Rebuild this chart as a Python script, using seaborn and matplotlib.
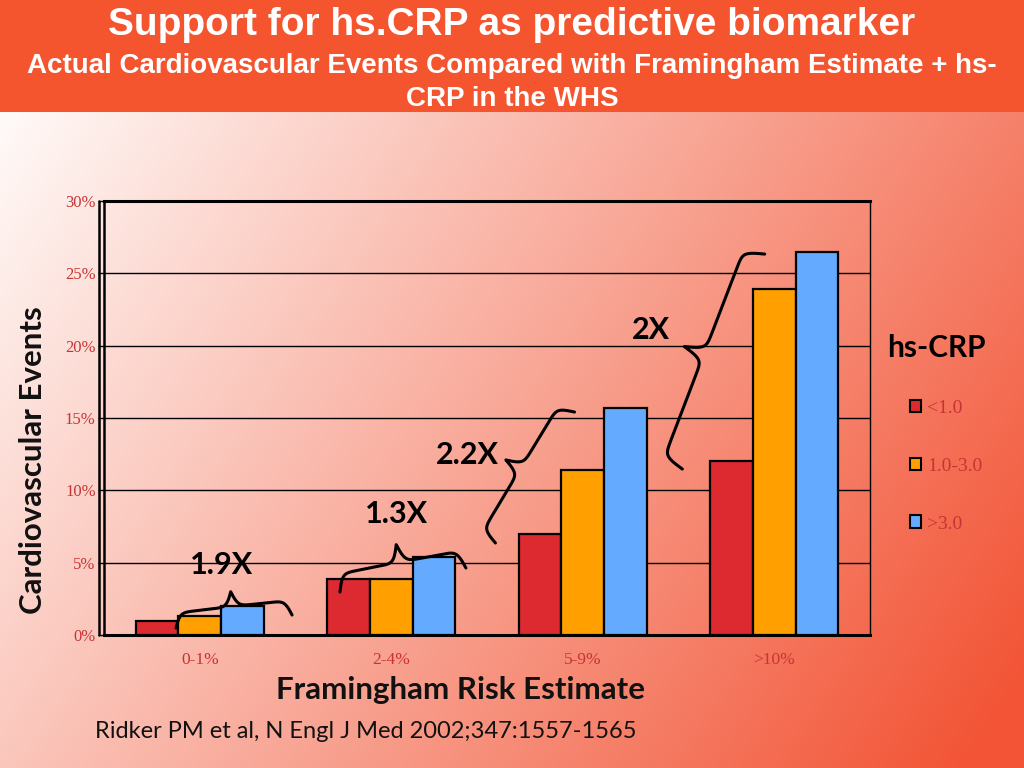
import numpy as np
import pandas as pd
import matplotlib
matplotlib.use("Agg")
import matplotlib.pyplot as plt
import seaborn as sns
from matplotlib.patches import Rectangle
from matplotlib.lines import Line2D

# data (percent of women with events)
risk_groups = ["0-1%", "2-4%", "5-9%", ">10%"]
crp_levels = ["<1.0", "1.0-3.0", ">3.0"]
crp_low = [1.0, 3.9, 7.0, 12.0]
crp_mid = [1.3, 3.9, 11.4, 23.9]
crp_high = [2.0, 5.4, 15.7, 26.5]
y_ticks = [0, 5, 10, 15, 20, 25, 30]
ratio_labels = ["1.9X", "1.3X", "2.2X", "2X"]

bar_colors = ["#dc2a30", "#ffa000", "#64aaff"]
tick_red = "#c83434"

df = pd.DataFrame({
    "risk": np.repeat(risk_groups, 3),
    "crp": crp_levels * 4,
    "events": [v for trio in zip(crp_low, crp_mid, crp_high) for v in trio],
})

sns.set_style("white")
plt.rcParams["font.family"] = ["Liberation Sans", "DejaVu Sans"]

fig = plt.figure(figsize=(10.24, 7.68), dpi=100)

# background gradient (white top-left -> orange-red bottom-right)
bg = fig.add_axes([0, 0, 1, 1], zorder=-10)
gx, gy = np.meshgrid(np.linspace(0, 1, 256), np.linspace(0, 1, 192))
t = np.clip(0.72 * gx + 0.36 * gy - 0.04, 0, 1)
white = np.array([1.0, 0.99, 0.985])
red = np.array([0.95, 0.33, 0.21])
img = white[None, None, :] * (1 - t[..., None]) + red[None, None, :] * t[..., None]
bg.imshow(img, aspect="auto", extent=[0, 1, 0, 1], origin="upper")
bg.set_xlim(0, 1)
bg.set_ylim(0, 1)
bg.axis("off")

# title banner
fig.patches.append(Rectangle((0, 1 - 112 / 768), 1, 112 / 768, transform=fig.transFigure,
                             facecolor="#f4552f", edgecolor="none", zorder=-5))
fig.text(0.5, 1 - 25 / 768, "Support for hs.CRP as predictive biomarker", ha="center", va="center",
         color="white", fontsize=28, fontweight="bold")
fig.text(0.5, 1 - 66 / 768, "Actual Cardiovascular Events Compared with Framingham Estimate + hs-",
         ha="center", va="center", color="white", fontsize=20, fontweight="bold")
fig.text(0.5, 1 - 99 / 768, "CRP in the WHS", ha="center", va="center", color="white",
         fontsize=20, fontweight="bold")

ax = fig.add_axes([104 / 1024, 1 - 635 / 768, 766 / 1024, 434 / 768])
ax.patch.set_alpha(0)

sns.barplot(data=df, x="risk", y="events", hue="crp", hue_order=crp_levels, order=risk_groups,
            palette=bar_colors, width=0.67, edgecolor="black", linewidth=1.6, saturation=1,
            ax=ax, zorder=3)

ax.set_xlim(-0.5, 3.5)
ax.set_ylim(0, 30)
ax.set_yticks(y_ticks)
ax.set_yticklabels([f"{v}%" for v in y_ticks], fontfamily="Liberation Serif", fontsize=12,
                   color=tick_red)
ax.grid(axis="y", color="black", linewidth=1.0, zorder=0)
ax.set_axisbelow(True)

# x: ticks at group boundaries, labels under groups
ax.set_xticks(np.arange(-0.5, 4.0, 1.0))
ax.set_xticklabels([])
ax.set_xticks(range(len(risk_groups)), minor=True)
ax.set_xticklabels(risk_groups, minor=True, fontfamily="Liberation Serif", fontsize=12.5,
                   color=tick_red)
ax.tick_params(axis="x", which="minor", length=0, pad=12)
ax.tick_params(axis="x", which="major", length=5, width=1, color="black", direction="out")
ax.tick_params(axis="y", length=4, width=1, color="black", direction="out", left=True, pad=2)
ax.set_xlabel("")
ax.set_ylabel("")

for side in ["top", "bottom", "left", "right"]:
    ax.spines[side].set_visible(True)
    ax.spines[side].set_color("black")
ax.spines["top"].set_linewidth(2.2)
ax.spines["bottom"].set_linewidth(2.2)
ax.spines["right"].set_linewidth(1.0)
ax.spines["left"].set_linewidth(1.8)
ax.add_line(Line2D([-0.006, -0.006], [0, 1], transform=ax.transAxes, color="black",
                   linewidth=1.8, clip_on=False))

# legend: title as separate text, entries below
handles, labels = ax.get_legend_handles_labels()
leg = ax.legend(handles, labels, loc="upper left", bbox_to_anchor=(1.052, 0.542),
                frameon=False, handlelength=0.6, handleheight=0.6, handletextpad=0.3,
                labelspacing=2.1, borderaxespad=0, borderpad=0,
                prop={"family": "Liberation Serif", "size": 14})
for txt in leg.get_texts():
    txt.set_color(tick_red)
for h in leg.legend_handles:
    h.set_edgecolor("black")
    h.set_linewidth(1.5)
fig.text(936 / 1024, 1 - 348 / 768, "hs-CRP", ha="center", va="center", fontfamily="Lato",
         fontsize=21.5, fontweight="bold", color="black")


def brace(ax, p0, p1, depth, beta=0.35, n=200):
    # curly brace between two data points, cusp on the left of p0->p1 (depth in pixels)
    a = ax.transData.transform(p0)
    b = ax.transData.transform(p1)
    u = b - a
    length = np.hypot(*u)
    u = u / length
    nrm = np.array([-u[1], u[0]])
    s = np.linspace(0, length / 2, n)
    half = 1 / (1 + np.exp(-beta * (s - s[0]))) + 1 / (1 + np.exp(-beta * (s - s[-1])))
    half = (half - half[0]) / (half[-1] - half[0])
    along = np.concatenate([s, s + length / 2])
    off = np.concatenate([half, half[::-1]]) * depth
    pts = a[None, :] + along[:, None] * u[None, :] + off[:, None] * nrm[None, :]
    pts = ax.transData.inverted().transform(pts)
    ax.plot(pts[:, 0], pts[:, 1], color="black", linewidth=2.2, zorder=5, clip_on=False,
            solid_capstyle="round")


fig.canvas.draw()
brace_ends = [((-0.124, 0.48), (0.482, 1.38), 30),
              ((0.732, 2.97), (1.39, 4.63), 36),
              ((1.544, 6.36), (1.957, 15.41), 34),
              ((2.52, 11.47), (2.95, 26.33), 42)]
for p0, p1, d in brace_ends:
    brace(ax, p0, p1, d)

label_pos = [(0.116, 4.84), (1.03, 8.36), (1.40, 12.44), (2.356, 21.08)]
for (x, y), lab in zip(label_pos, ratio_labels):
    ax.text(x, y, lab, ha="center", va="center", fontfamily="Lato", fontsize=22,
            fontweight="bold", color="black", zorder=6)

fig.text(33 / 1024, 1 - 460 / 768, "Cardiovascular Events", rotation=90, ha="center",
         va="center", fontfamily="Lato", fontsize=22.5, fontweight="bold", color="#111111")
fig.text(461 / 1024, 1 - 690 / 768, "Framingham Risk Estimate", ha="center", va="center",
         fontfamily="Lato", fontsize=22.5, fontweight="bold", color="#111111")
fig.text(95 / 1024, 1 - 731 / 768, "Ridker PM et al, N Engl J Med 2002;347:1557-1565", ha="left",
         va="center", fontfamily="Lato", fontsize=17, color="#111111")

fig.savefig("out.png", dpi=100)
